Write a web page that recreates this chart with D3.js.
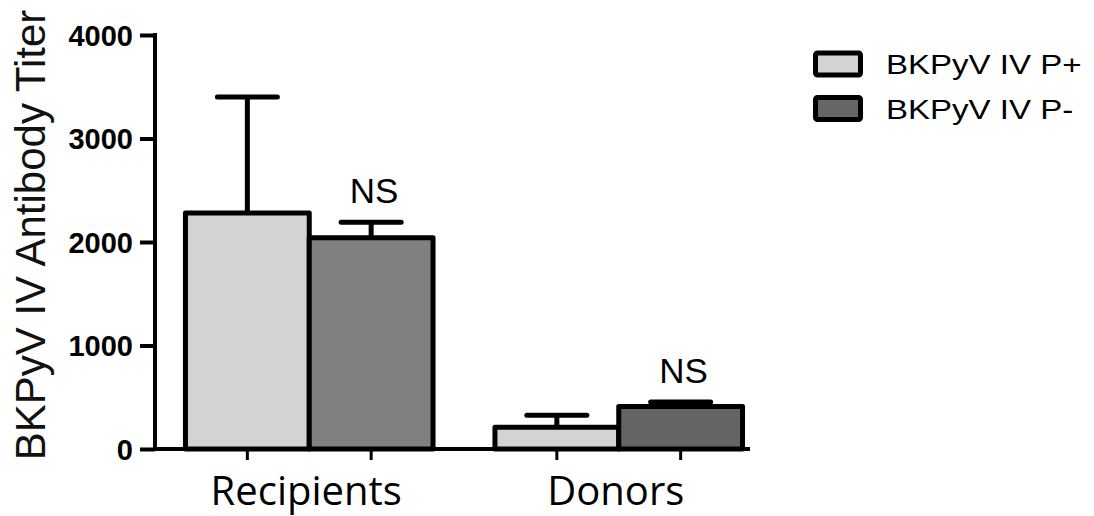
<!DOCTYPE html>
<html>
<head>
<meta charset="utf-8">
<script src="https://cdn.jsdelivr.net/npm/d3@7"></script>
<style>
  html, body { margin: 0; padding: 0; background: #fff; }
  svg { display: block; }
</style>
</head>
<body>
<svg id="chart" width="1094" height="516"></svg>
<script>
// ---- data ----
const categories = ["Recipients", "Donors"];
const series = ["BKPyV IV P+", "BKPyV IV P-"];
const meansPlus = [2280, 210];
const meansMinus = [2040, 410];
const errPlus = [1120, 115];
const errMinus = [150, 45];
const yTickValues = [0, 1000, 2000, 3000, 4000];
const significance = ["NS", "NS"];
const yTitle = "BKPyV IV Antibody Titer";

// ---- styles ----
const fillsByCategory = [["#d3d3d3", "#808080"], ["#d3d3d3", "#646464"]];
const legendFills = ["#d3d3d3", "#666666"];

const svg = d3.select("#chart");

const y = d3.scaleLinear().domain([0, 4000]).range([449, 35]);
const x0 = d3.scaleBand().domain(categories).range([154.5, 773.5]).paddingInner(0.2).paddingOuter(0.1);
const x1 = d3.scaleBand().domain(series).range([0, x0.bandwidth()]).padding(0);

const rows = [];
categories.forEach((c, i) => {
  rows.push({cat: c, ser: series[0], v: meansPlus[i], e: errPlus[i], fill: fillsByCategory[i][0], sig: null});
  rows.push({cat: c, ser: series[1], v: meansMinus[i], e: errMinus[i], fill: fillsByCategory[i][1], sig: significance[i]});
});
const cx = d => x0(d.cat) + x1(d.ser) + x1.bandwidth() / 2;

// error bars (drawn behind the bars)
const eb = svg.append("g").attr("stroke", "#000").attr("stroke-width", 5).attr("stroke-linecap", "round");
eb.selectAll("line.v").data(rows).join("line")
  .attr("x1", cx).attr("x2", cx)
  .attr("y1", d => y(d.v)).attr("y2", d => y(d.v + d.e))
  .attr("stroke-linecap", "butt");
eb.selectAll("line.cap").data(rows).join("line")
  .attr("x1", d => cx(d) - 30).attr("x2", d => cx(d) + 30)
  .attr("y1", d => y(d.v + d.e)).attr("y2", d => y(d.v + d.e));

// bars
svg.append("g").selectAll("rect").data(rows).join("rect")
  .attr("x", d => x0(d.cat) + x1(d.ser))
  .attr("y", d => y(d.v))
  .attr("width", x1.bandwidth())
  .attr("height", d => y(0) - y(d.v))
  .attr("fill", d => d.fill)
  .attr("stroke", "#000")
  .attr("stroke-width", 5)
  .attr("stroke-linejoin", "round");

// significance labels
svg.append("g").selectAll("text").data(rows.filter(d => d.sig)).join("text")
  .attr("x", d => cx(d) + 3)
  .attr("y", d => y(d.v + d.e) - 19)
  .attr("text-anchor", "middle")
  .attr("font-family", "'Liberation Sans', Arial, sans-serif")
  .attr("font-size", 35)
  .attr("fill", "#000")
  .text(d => d.sig);

// y axis
const yAxis = svg.append("g").attr("transform", "translate(155,0)")
  .call(d3.axisLeft(y).tickValues(yTickValues).tickSize(15).tickSizeOuter(0).tickPadding(7).tickFormat(d3.format("d")));
yAxis.select(".domain").attr("stroke", "#000").attr("stroke-width", 4).attr("d", `M0,${y(4000) - 2}V${y(0) + 2}`);
yAxis.selectAll(".tick line").attr("stroke", "#000").attr("stroke-width", 4);
yAxis.selectAll(".tick text")
  .attr("font-family", "'Liberation Sans', Arial, sans-serif")
  .attr("font-weight", "bold")
  .attr("font-size", 29)
  .attr("fill", "#000")
  .attr("dy", "0.36em");

// x axis
const xg = svg.append("g");
xg.append("line").attr("x1", 153).attr("x2", 750).attr("y1", y(0)).attr("y2", y(0))
  .attr("stroke", "#000").attr("stroke-width", 4);
xg.selectAll("line.tick").data(rows).join("line")
  .attr("x1", cx).attr("x2", cx).attr("y1", y(0)).attr("y2", y(0) + 11)
  .attr("stroke", "#000").attr("stroke-width", 3);
xg.selectAll("text").data(categories).join("text")
  .attr("x", d => x0(d) + x0.bandwidth() / 2 - 3)
  .attr("y", 505)
  .attr("text-anchor", "middle")
  .attr("font-family", "'Open Sans', sans-serif")
  .attr("font-size", 40)
  .attr("fill", "#000")
  .text(d => d);

// y title
svg.append("text")
  .attr("transform", "translate(45,235) rotate(-90)")
  .attr("text-anchor", "middle")
  .attr("font-family", "'Liberation Sans', Arial, sans-serif")
  .attr("font-size", 42)
  .attr("fill", "#111")
  .text(yTitle);

// legend
const lg = svg.append("g").selectAll("g").data(series).join("g")
  .attr("transform", (d, i) => `translate(815.5,${53 + i * 44.5})`);
lg.append("rect").attr("width", 45).attr("height", 22).attr("rx", 2)
  .attr("fill", (d, i) => legendFills[i]).attr("stroke", "#000").attr("stroke-width", 5);
lg.append("text")
  .attr("transform", "translate(70.5,21) scale(1.18,1)")
  .attr("font-family", "'Liberation Sans', Arial, sans-serif")
  .attr("font-size", 28)
  .attr("fill", "#000")
  .text(d => d);
</script>
</body>
</html>
